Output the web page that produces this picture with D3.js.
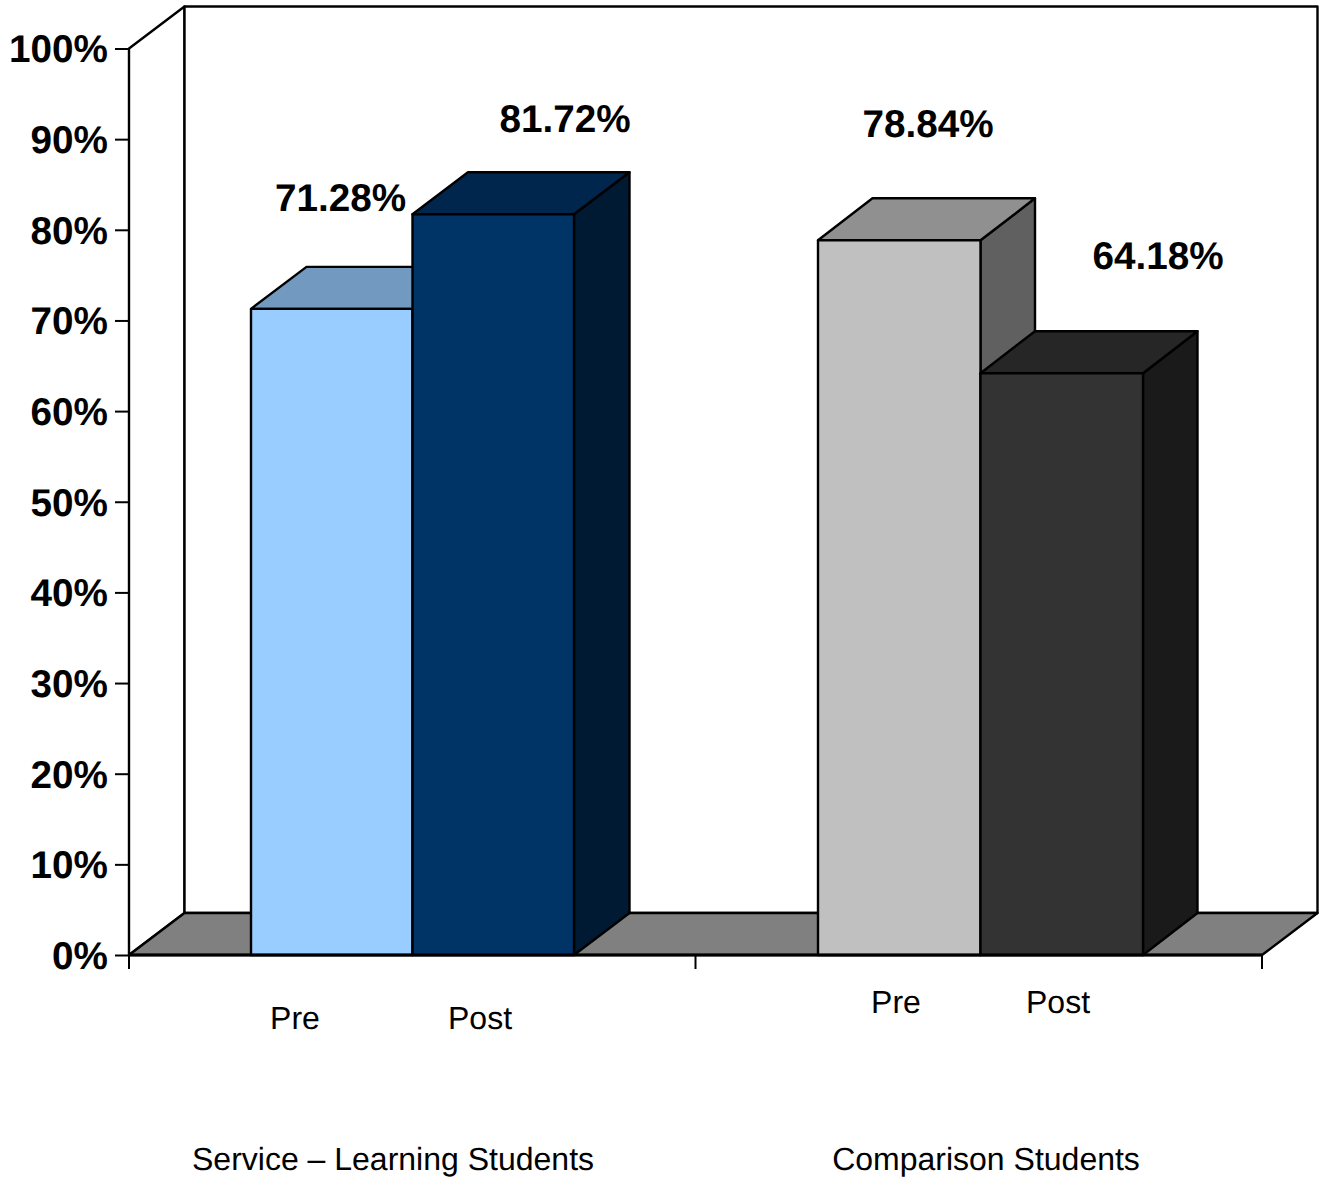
<!DOCTYPE html>
<html>
<head>
<meta charset="utf-8">
<style>
    html, body { margin: 0; background: #fff; }
    svg { display: block; }
    text { font-family: "Liberation Sans", Arial, sans-serif; fill: #000; text-rendering: geometricPrecision; }
    .edge { stroke: #000; stroke-width: 2.4px; stroke-linejoin: round; }
    .axis path, .axis line { stroke: #000; stroke-width: 2px; }
    .y-axis text, .value { font-size: 38.7px; font-weight: bold; }
    .x-label { font-size: 32px; }
</style>
</head>
<body>
<script src="https://d3js.org/d3.v7.min.js"></script>
<script>
const groups = ["Service \u2013 Learning Students", "Comparison Students"];
const phases = ["Pre", "Post"];
const serviceValues = [71.28, 81.72];
const comparisonValues = [78.84, 64.18];
const yTicks = [0, 10, 20, 30, 40, 50, 60, 70, 80, 90, 100];

const width = 1325, height = 1177;
const left = 129, right = 1262, top100 = 48.5, bottom = 955;
const depthX = 55.5, depthY = 42;

// front, top and side shades for each bar
const shades = [
    [{ front: "#99ccff", top: "#7299bf", side: "#4c6680" }, { front: "#003366", top: "#00264d", side: "#001a33" }],
    [{ front: "#c0c0c0", top: "#909090", side: "#606060" }, { front: "#333333", top: "#262626", side: "#1a1a1a" }]
];

// the data labels and category labels were placed by hand on the slide
const valueLabelPos = [[[340.5, 211], [565, 132]], [[928, 137], [1158, 269]]];
const phaseLabelPos = [[[295, 1029], [480, 1029]], [[896, 1013], [1058, 1013]]];
const groupLabelPos = [[393, 1170], [986, 1170]];

// horizontal span and 3d depth of each pair of bars
const barSpans = [[251, 574], [818, 1143]];
const barDepths = [55.5, 54.5];

const y = d3.scaleLinear().domain([0, 100]).range([bottom, top100]);
const xGroup = d3.scaleBand().domain(groups).range([left, right]);
const xPhases = barSpans.map(span => d3.scaleBand().domain(phases).range(span));

const svg = d3.select("body").append("svg")
    .attr("width", width)
    .attr("height", height);

const poly = pts => "M" + pts.map(p => p.join(",")).join("L") + "Z";

// walls and floor
svg.append("path").attr("class", "edge").attr("fill", "#fff")
    .attr("d", poly([[left, top100], [left + depthX, top100 - depthY], [left + depthX, bottom - depthY], [left, bottom]]));
svg.append("path").attr("class", "edge").attr("fill", "#fff")
    .attr("d", poly([[left + depthX, top100 - depthY], [right + depthX, top100 - depthY], [right + depthX, bottom - depthY], [left + depthX, bottom - depthY]]));
svg.append("path").attr("class", "edge").attr("fill", "#808080")
    .attr("d", poly([[left, bottom], [left + depthX, bottom - depthY], [right + depthX, bottom - depthY], [right, bottom]]));

// axes
const yAxis = d3.axisLeft(y).tickValues(yTicks).tickSize(14).tickPadding(7).tickFormat(d => d + "%");
svg.append("g").attr("class", "axis y-axis")
    .attr("transform", "translate(" + left + ",0)")
    .call(yAxis)
    .call(g => g.select(".domain").attr("d", "M0," + top100 + "V" + bottom));
svg.selectAll(".y-axis text").attr("fill", "#000").attr("dy", "0.345em");

const xTicks = [left, xGroup(groups[1]), right];
svg.append("g").attr("class", "axis x-axis")
    .selectAll("line")
    .data(xTicks)
    .join("line")
    .attr("x1", d => d).attr("x2", d => d)
    .attr("y1", bottom).attr("y2", bottom + 14);

// bars, Pre first so Post overlaps its side face
const series = [serviceValues, comparisonValues];
series.forEach((vals, gi) => {
    const g = svg.append("g");
    const xPhase = xPhases[gi], dx = barDepths[gi];
    vals.forEach((v, pi) => {
        const x0 = xPhase(phases[pi]), x1 = x0 + xPhase.bandwidth();
        const yt = y(v), s = shades[gi][pi];
        g.append("path").attr("class", "edge").attr("fill", s.side)
            .attr("d", poly([[x1, yt], [x1 + dx, yt - depthY], [x1 + dx, bottom - depthY], [x1, bottom]]));
        g.append("path").attr("class", "edge").attr("fill", s.top)
            .attr("d", poly([[x0, yt], [x0 + dx, yt - depthY], [x1 + dx, yt - depthY], [x1, yt]]));
        g.append("path").attr("class", "edge").attr("fill", s.front)
            .attr("d", poly([[x0, yt], [x1, yt], [x1, bottom], [x0, bottom]]));
    });
});

// baseline sits above the bars
svg.append("line").attr("class", "edge")
    .attr("x1", left).attr("x2", right)
    .attr("y1", bottom).attr("y2", bottom)
    .style("stroke-width", "3px");

// labels
series.forEach((vals, gi) => {
    vals.forEach((v, pi) => {
        svg.append("text").attr("class", "value")
            .attr("x", valueLabelPos[gi][pi][0]).attr("y", valueLabelPos[gi][pi][1])
            .attr("text-anchor", "middle")
            .text(v.toFixed(2) + "%");
        svg.append("text").attr("class", "x-label")
            .attr("x", phaseLabelPos[gi][pi][0]).attr("y", phaseLabelPos[gi][pi][1])
            .attr("text-anchor", "middle")
            .text(phases[pi]);
    });
    svg.append("text").attr("class", "x-label")
        .attr("x", groupLabelPos[gi][0]).attr("y", groupLabelPos[gi][1])
        .attr("text-anchor", "middle")
        .text(groups[gi]);
});
</script>
</body>
</html>
